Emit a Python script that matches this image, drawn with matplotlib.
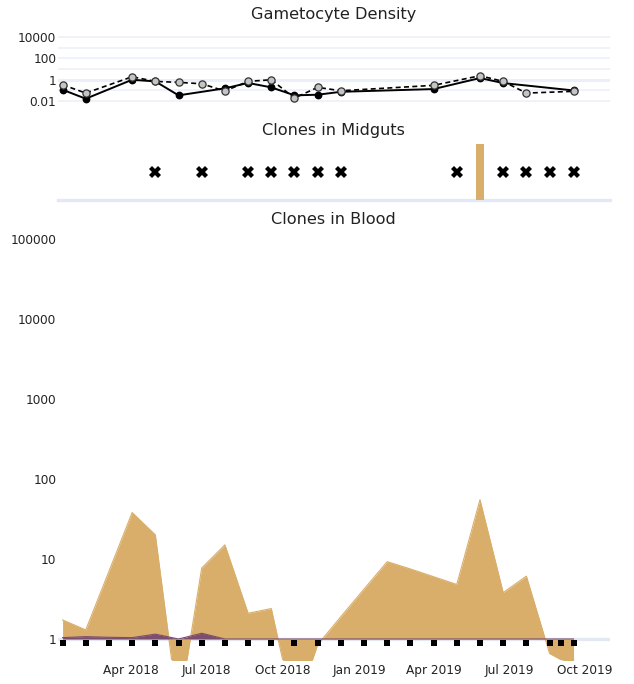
import numpy as np
import pandas as pd
import matplotlib
matplotlib.use("Agg")
import matplotlib.pyplot as plt
import matplotlib.dates as mdates
from matplotlib.ticker import FixedLocator, FixedFormatter, NullLocator

# ---------------- data ----------------
sample_dates = pd.to_datetime([
    "2018-01-08", "2018-02-05", "2018-03-05", "2018-04-02", "2018-04-30",
    "2018-05-28", "2018-06-25", "2018-07-23", "2018-08-20", "2018-09-17",
    "2018-10-15", "2018-11-12", "2018-12-10", "2019-01-07", "2019-02-04",
    "2019-03-04", "2019-04-01", "2019-04-29", "2019-05-27", "2019-06-24",
    "2019-07-22", "2019-08-19", "2019-09-02", "2019-09-17",
])

# clone abundance in blood (two clones)
blood_clone_a = [1.73, 1.30, 7.0, 38.0, 20.0, 0.12, 7.7, 15.0, 2.1, 2.4,
                 0.12, 0.85, 1.9, 4.2, 9.25, 7.5, 6.0, 4.8, 55.0, 3.8,
                 6.1, 0.66, 0.55, 0.5]
blood_clone_b = [1.04, 1.07, 1.05, 1.04, 1.15, 1.0, 1.18, 1.0, 1.0, 1.0,
                 1.0, 1.0, 1.0, 1.0, 1.0, 1.0, 1.0, 1.0, 1.0, 1.0,
                 1.0, 1.0, 1.0, 1.0]

# gametocyte densities
gam_solid_dates = pd.to_datetime([
    "2018-01-08", "2018-02-05", "2018-04-02", "2018-04-30", "2018-05-28",
    "2018-07-23", "2018-08-20", "2018-09-17", "2018-10-15", "2018-11-12",
    "2018-12-10", "2019-04-01", "2019-05-27", "2019-06-24", "2019-09-17",
])
gam_solid_values = [0.117, 0.017, 1.0, 0.7, 0.035, 0.158, 0.5, 0.195, 0.035,
                    0.04, 0.075, 0.135, 1.44, 0.49, 0.1]

gam_dashed_dates = pd.to_datetime([
    "2018-01-08", "2018-02-05", "2018-04-02", "2018-04-30", "2018-05-28",
    "2018-06-25", "2018-07-23", "2018-08-20", "2018-09-17", "2018-10-15",
    "2018-11-12", "2018-12-10", "2019-04-01", "2019-05-27", "2019-06-24",
    "2019-07-22", "2019-09-17",
])
gam_dashed_values = [0.34, 0.057, 1.9, 0.7, 0.57, 0.42, 0.089, 0.7, 1.0, 0.0195,
                     0.195, 0.094, 0.3, 2.37, 0.7, 0.057, 0.083]

# midgut observations
midgut_x_dates = pd.to_datetime([
    "2018-04-30", "2018-06-25", "2018-08-20", "2018-09-17", "2018-10-15",
    "2018-11-12", "2018-12-10", "2019-04-29", "2019-06-24", "2019-07-22",
    "2019-08-19", "2019-09-17",
])
midgut_bar_dates = pd.to_datetime(["2019-05-27"])
midgut_bar_values = [1.0]

gam_ticks = [0.01, 1, 100, 10000]
gam_tick_labels = ["0.01", "1", "100", "10000"]
blood_ticks = [1, 10, 100, 1000, 10000, 100000]
blood_tick_labels = ["1", "10", "100", "1000", "10000", "100000"]

# ---------------- style ----------------
TAN = "#D9AE6B"
PURPLE = "#7B4D6E"
GRID = "#EBF0F8"
ZERO = "#E4E8F4"
TXT = "#222222"
W, H = 634, 684
XLIM = (pd.Timestamp("2018-01-02"), pd.Timestamp("2019-10-31"))
SQUARE_LEVEL = 0.88
X_LEVEL = 0.5

fig = plt.figure(figsize=(W / 100, H / 100), dpi=100)


def rect(x0, y0, x1, y1):
    return [x0 / W, 1 - y1 / H, (x1 - x0) / W, (y1 - y0) / H]


def clean(ax):
    for s in ax.spines.values():
        s.set_visible(False)
    ax.tick_params(length=0, labelsize=8.7, labelcolor=TXT, pad=1)
    ax.set_xlim(*XLIM)


# ---- gametocyte density ----
ax1 = fig.add_axes(rect(57.6, 31.5, 610, 104.4))
clean(ax1)
ax1.set_yscale("log")
ax1.set_ylim(10 ** -2.3, 10 ** 4.5)
for e in range(-2, 5):
    ax1.axhline(10.0 ** e, color=GRID, lw=2.2 if e == 0 else 1.1, zorder=0)
ax1.plot(gam_solid_dates, gam_solid_values, "-o", color="black", lw=1.4,
         ms=4.6, mfc="black", mec="black", zorder=3)
ax1.plot(gam_dashed_dates, gam_dashed_values, "--o", color="black", lw=1.2,
         dashes=(3, 2), ms=5.2, mfc="#C4C4C4", mec="#333333", mew=0.9, zorder=4)
ax1.yaxis.set_major_locator(FixedLocator(gam_ticks))
ax1.yaxis.set_major_formatter(FixedFormatter(gam_tick_labels))
ax1.yaxis.set_minor_locator(NullLocator())
ax1.set_xticks([])

# ---- midguts ----
ax2 = fig.add_axes(rect(57.6, 143.5, 610, 200))
clean(ax2)
ax2.set_ylim(0, 1)
ax2.axhline(0, color=ZERO, lw=2.4, zorder=0, clip_on=False)
ax2.bar(midgut_bar_dates, midgut_bar_values, width=9, color=TAN, zorder=2)
ax2.plot(midgut_x_dates, [X_LEVEL] * len(midgut_x_dates), "X", color="black",
         ms=8.5, mew=0, zorder=3)
ax2.set_xticks([])
ax2.set_yticks([])

# ---- blood ----
ax3 = fig.add_axes(rect(57.6, 230, 610, 660))
clean(ax3)
ax3.set_yscale("log")
ax3.set_ylim(10 ** -0.2625, 10 ** 5.11)
ax3.axhline(1, color=ZERO, lw=2.4, zorder=0.5)
ax3.fill_between(sample_dates, blood_clone_a, 1, color=TAN, lw=0, zorder=2)
ax3.plot(sample_dates, blood_clone_a, color=TAN, lw=0.8, zorder=2)
ax3.fill_between(sample_dates, blood_clone_b, 1, color=PURPLE, lw=0, zorder=3)
ax3.plot(sample_dates, blood_clone_b, color=PURPLE, lw=0.8, zorder=3)
ax3.plot(sample_dates, [SQUARE_LEVEL] * len(sample_dates), "s", color="black",
         ms=4.6, mew=0, zorder=4, clip_on=False)
ax3.yaxis.set_major_locator(FixedLocator(blood_ticks))
ax3.yaxis.set_major_formatter(FixedFormatter(blood_tick_labels))
ax3.yaxis.set_minor_locator(NullLocator())
ax3.xaxis.set_major_locator(mdates.MonthLocator(bymonth=[1, 4, 7, 10]))
ax3.xaxis.set_major_formatter(mdates.DateFormatter("%b %Y"))
ax3.tick_params(axis="x", pad=3)

# ---- titles ----
cx = (57.6 + 610) / 2 / W
for text, y in [("Gametocyte Density", 15), ("Clones in Midguts", 131),
                ("Clones in Blood", 220)]:
    fig.text(cx, 1 - y / H, text, ha="center", va="center", fontsize=11.6,
             color=TXT)

fig.savefig("out.png", dpi=100, facecolor="white")
